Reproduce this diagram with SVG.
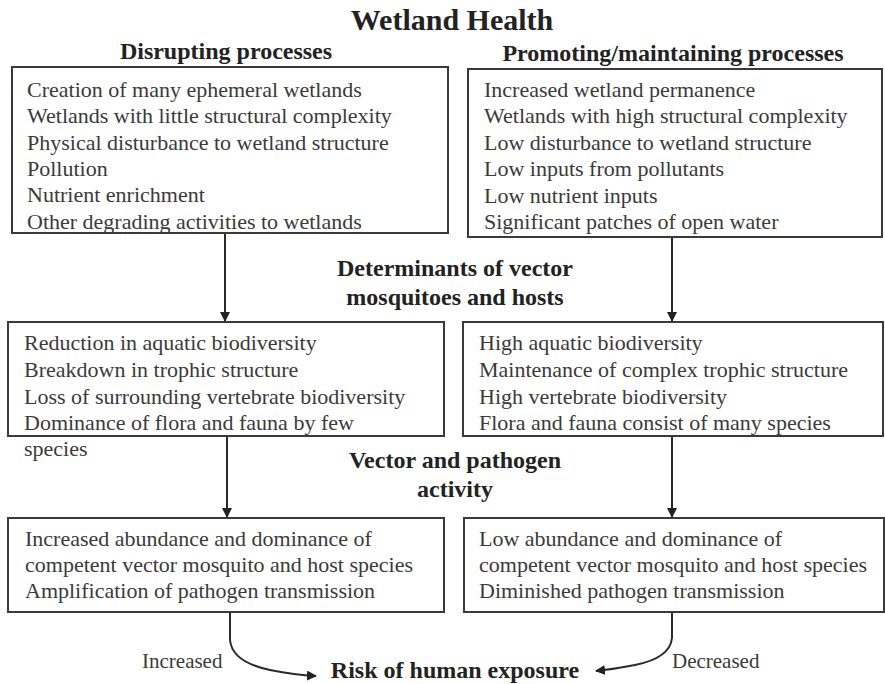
<svg xmlns="http://www.w3.org/2000/svg" width="885" height="684" viewBox="0 0 885 684">
  <style>
    .bg { fill: #ffffff; }
    .box { fill: #ffffff; stroke: #3a3a3a; stroke-width: 2; }
    .item { font-family: "Liberation Serif", "Times New Roman", serif; font-size: 22px; fill: #3a3a3a; }
    .head { font-family: "Liberation Serif", "Times New Roman", serif; font-size: 24px; font-weight: bold; fill: #222222; text-anchor: middle; }
    .title { font-family: "Liberation Serif", "Times New Roman", serif; font-size: 30px; font-weight: bold; fill: #222222; text-anchor: middle; }
    .lbl { font-family: "Liberation Serif", "Times New Roman", serif; font-size: 21px; fill: #3a3a3a; }
    .edge { fill: none; stroke: #2a2a2a; stroke-width: 2; }
  </style>
  <defs>
    <marker id="arrow" markerWidth="10" markerHeight="10" refX="9" refY="5" orient="auto" markerUnits="userSpaceOnUse">
      <path d="M0,0 L10,5 L0,10 Z" fill="#222222"/>
    </marker>
  </defs>

  <rect class="bg" x="0" y="0" width="885" height="684"/>

  <g id="headings">
    <text class="title" x="452" y="30">Wetland Health</text>
    <text class="head" x="226" y="59">Disrupting processes</text>
    <text class="head" x="673" y="61">Promoting/maintaining processes</text>
    <text class="head" x="455" y="276">Determinants of vector</text>
    <text class="head" x="455" y="305">mosquitoes and hosts</text>
    <text class="head" x="455" y="468">Vector and pathogen</text>
    <text class="head" x="455" y="497">activity</text>
  </g>

  <g id="disrupting">
    <rect class="box" x="12" y="67" width="436" height="166"/>
    <text class="item" x="27" y="97">Creation of many ephemeral  wetlands</text>
    <text class="item" x="27" y="123">Wetlands with little structural complexity</text>
    <text class="item" x="27" y="150">Physical disturbance to wetland structure</text>
    <text class="item" x="27" y="176">Pollution</text>
    <text class="item" x="27" y="202">Nutrient enrichment</text>
    <text class="item" x="27" y="229">Other degrading activities to wetlands</text>
  </g>

  <g id="promoting">
    <rect class="box" x="468" y="69" width="414" height="168"/>
    <text class="item" x="484" y="97">Increased  wetland permanence</text>
    <text class="item" x="484" y="123">Wetlands with high structural complexity</text>
    <text class="item" x="484" y="150">Low disturbance to wetland structure</text>
    <text class="item" x="484" y="176">Low inputs from pollutants</text>
    <text class="item" x="484" y="203">Low nutrient inputs</text>
    <text class="item" x="484" y="229">Significant patches of open water</text>
  </g>

  <g id="determinants-low">
    <rect class="box" x="8" y="322" width="436" height="114"/>
    <text class="item" x="24" y="350">Reduction in aquatic biodiversity</text>
    <text class="item" x="24" y="377">Breakdown in trophic structure</text>
    <text class="item" x="24" y="404">Loss of surrounding vertebrate biodiversity</text>
    <text class="item" x="24" y="430">Dominance of flora and fauna by few</text>
    <text class="item" x="24" y="456">species</text>
  </g>

  <g id="determinants-high">
    <rect class="box" x="463" y="322" width="420" height="114"/>
    <text class="item" x="479" y="350">High aquatic biodiversity</text>
    <text class="item" x="479" y="377">Maintenance of complex trophic structure</text>
    <text class="item" x="479" y="404">High vertebrate biodiversity</text>
    <text class="item" x="479" y="430">Flora and fauna consist of many species</text>
  </g>

  <g id="activity-high">
    <rect class="box" x="8" y="518" width="436" height="94"/>
    <text class="item" x="25" y="546">Increased abundance and dominance of</text>
    <text class="item" x="25" y="572">competent vector mosquito and host species</text>
    <text class="item" x="25" y="598">Amplification of pathogen transmission</text>
  </g>

  <g id="activity-low">
    <rect class="box" x="464" y="518" width="420" height="94"/>
    <text class="item" x="479" y="546">Low abundance and dominance of</text>
    <text class="item" x="479" y="572">competent vector mosquito and host species</text>
    <text class="item" x="479" y="598">Diminished pathogen transmission</text>
  </g>

  <g id="risk">
    <text class="head" x="455" y="678">Risk of human exposure</text>
  </g>

  <g id="connectors">
    <line class="edge" x1="225" y1="234" x2="225" y2="321" marker-end="url(#arrow)"/>
    <line class="edge" x1="672" y1="238" x2="672" y2="321" marker-end="url(#arrow)"/>
    <line class="edge" x1="227" y1="437" x2="227" y2="517" marker-end="url(#arrow)"/>
    <line class="edge" x1="672" y1="437" x2="672" y2="517" marker-end="url(#arrow)"/>
    <path class="edge" d="M230,613 L230,640 Q232,662 270,670 Q295,675 316,676" marker-end="url(#arrow)"/>
    <path class="edge" d="M672,613 L672,638 Q670,658 635,665 Q615,669 596,671" marker-end="url(#arrow)"/>
    <text class="lbl" x="142" y="668">Increased</text>
    <text class="lbl" x="672" y="668">Decreased</text>
  </g>
</svg>
